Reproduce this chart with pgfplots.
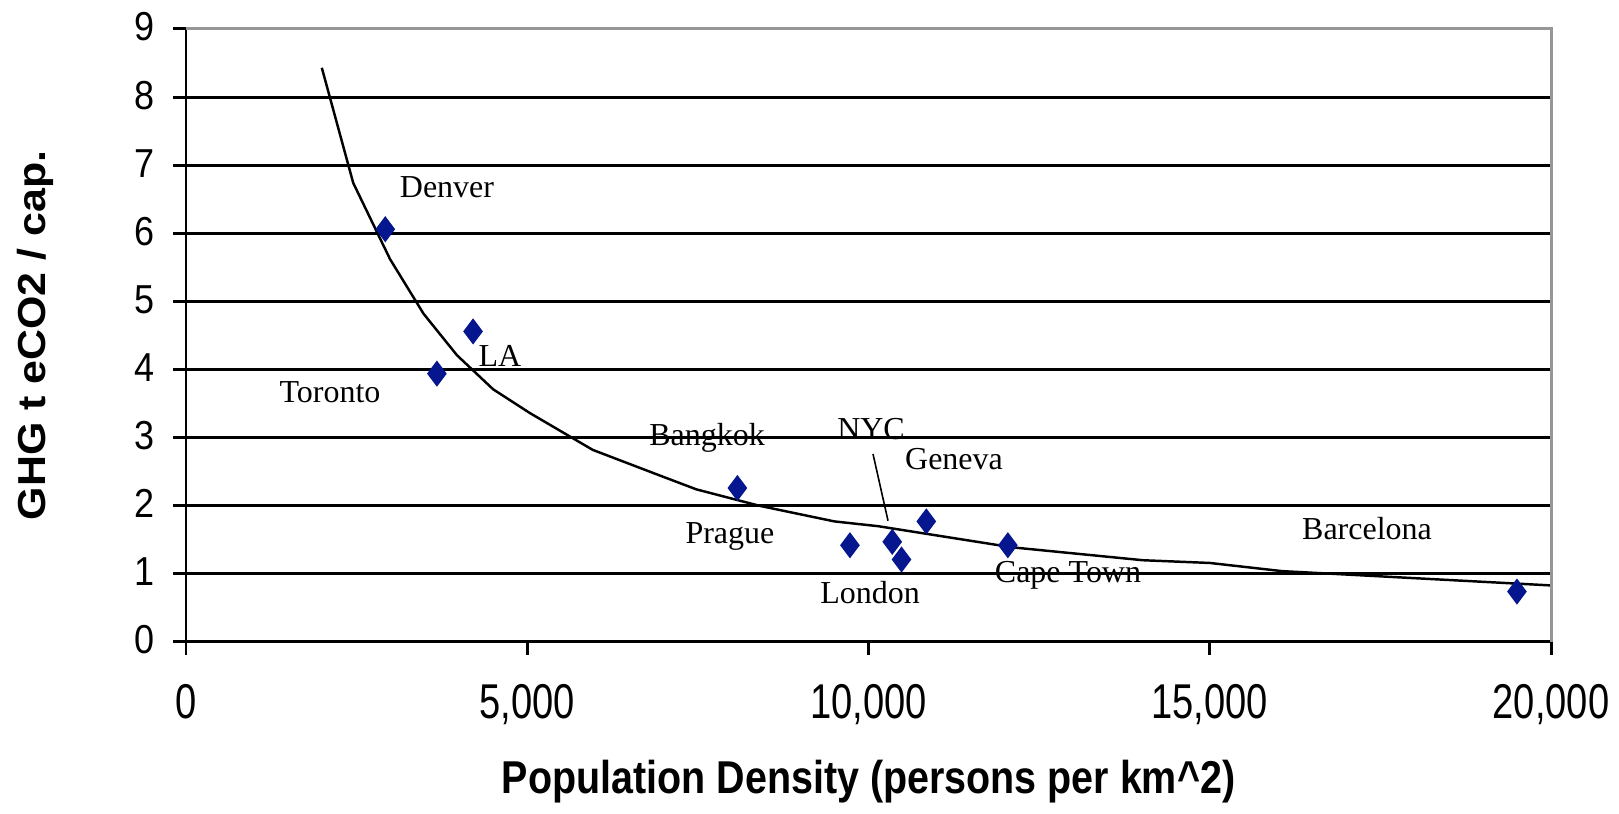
\documentclass[border=0pt]{standalone}
\usepackage{fontspec}
\setmainfont{Liberation Serif}
\newfontfamily\xticksans[FakeStretch=0.78]{Liberation Sans}
\newfontfamily\yticksans[FakeStretch=0.89]{Liberation Sans}
\newfontfamily\xlabsans[FakeStretch=0.857]{Liberation Sans}
\newfontfamily\ylabsans[FakeStretch=1.1]{Liberation Sans}
\usepackage{pgfplots}
\pgfplotsset{compat=1.18}
\definecolor{mk}{RGB}{6,22,142}
\definecolor{frame}{RGB}{150,150,150}

\begin{document}
\begin{tikzpicture}
\begin{axis}[
    scale only axis,
    width=136.5mm, height=61.3mm,
    xmin=0, xmax=20000, ymin=0, ymax=9,
    xtick={0,5000,...,20000}, ytick={0,1,...,9},
    scaled x ticks=false,
    axis x line*=bottom, axis y line*=left,
    axis line style={-, line width=0.85pt},
    tick align=outside, major tick length=1.3mm,
    tick style={black, line width=0.85pt},
    ymajorgrids, grid style={black, line width=0.85pt},
    /pgf/number format/assume math mode=true,
    /pgf/number format/.cd, fixed, 1000 sep={,}, /pgfplots/.cd,
    yticklabel style={anchor=east, inner sep=0pt, xshift=-1.8mm, yshift=0.2mm,
      font=\yticksans\fontsize{11.5}{13}\selectfont},
    xticklabel style={anchor=north, inner sep=0pt, yshift=-2.9mm,
      font=\xticksans\fontsize{13.9}{16}\selectfont},
    clip=false,
  ]
  % fitted curve
  \addplot[black, line width=0.7pt, mark=none] coordinates {
    (1990,8.43) (2450,6.74) (2990,5.62) (3480,4.82) (3970,4.21) (4500,3.71)
    (5040,3.36) (5960,2.82) (7005,2.42) (7480,2.24) (8400,2.00) (9500,1.77)
    (10140,1.70) (12100,1.39) (14020,1.20) (15000,1.16) (16060,1.04)
    (17000,0.99) (20000,0.83)
  };
  % cities
  \addplot[only marks, mark=diamond*, mark size=3.4pt, color=mk] coordinates {
    (2920,6.06) (4206,4.56) (3676,3.94) (8079,2.26) (9728,1.42)
    (10348,1.47) (10484,1.21) (10847,1.77) (12042,1.42) (19501,0.74)
  };
  \draw[black, line width=0.45pt] (axis cs:10066,2.76) -- (axis cs:10286,1.78);
  \begin{scope}[every node/.style={anchor=base, inner sep=0pt, font=\fontsize{9.1}{11}\selectfont}]
    \node at (axis cs:3824,6.52) {Denver};
    \node at (axis cs:4601,4.05) {LA};
    \node at (axis cs:2110,3.51) {Toronto};
    \node at (axis cs:7634,2.89) {Bangkok};
    \node at (axis cs:10037,2.97) {NYC};
    \node at (axis cs:11253,2.53) {Geneva};
    \node at (axis cs:7970,1.45) {Prague};
    \node at (axis cs:10022,0.57) {London};
    \node at (axis cs:12923,0.88) {Cape Town};
    \node at (axis cs:17304,1.50) {Barcelona};
  \end{scope}
  \draw[frame, line width=0.85pt] (rel axis cs:0,1) -- (rel axis cs:1,1) -- (rel axis cs:1,0);
  \node[rotate=90, anchor=center, font=\ylabsans\bfseries\fontsize{11.1}{13}\selectfont]
    at ([xshift=-15.1mm]rel axis cs:0,0.5) {GHG t eCO2 / cap.};
  \node[anchor=base, font=\xlabsans\bfseries\fontsize{13.1}{15}\selectfont]
    at ([yshift=-15.2mm]rel axis cs:0.5,0) {Population Density (persons per km\^{}2)};
  \coordinate (O) at (rel axis cs:0,0);
  \coordinate (T) at (rel axis cs:1,1);
\end{axis}
\pgfresetboundingbox
\path ([xshift=-18.6mm,yshift=-17.2mm]O) rectangle ([xshift=6.8mm,yshift=2.9mm]T);
\end{tikzpicture}
\end{document}
